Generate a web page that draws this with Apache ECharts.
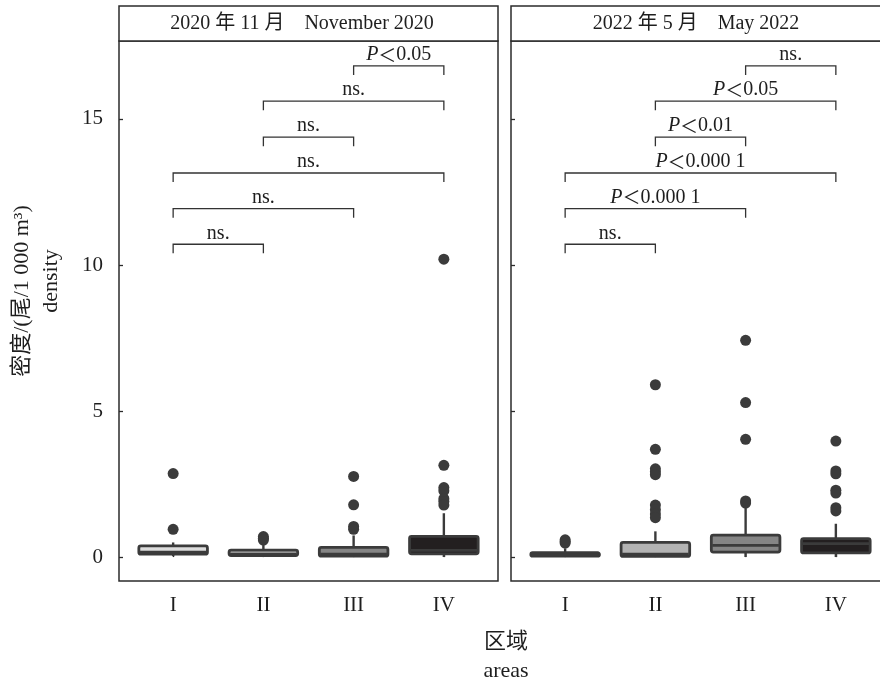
<!DOCTYPE html>
<html>
<head>
<meta charset="utf-8">
<script src="https://cdn.jsdelivr.net/npm/echarts@6/dist/echarts.min.js"></script>
<style>html,body{margin:0;padding:0;background:#fff}#chart{width:880px;height:685px}</style>
</head>
<body>
<div id="chart"></div>
<script>
// ---------- data ----------
const areas = ['I', 'II', 'III', 'IV'];
const panelTitles = ['2020 年 11 月\u3000November 2020', '2022 年 5 月\u3000May 2022'];
const yTicks = [0, 5, 10, 15];
// [min, Q1, median, Q3, max]
const nov2020Box = [
  [0.03, 0.10, 0.17, 0.38, 0.50],
  [0.00, 0.05, 0.10, 0.24, 0.45],
  [0.00, 0.03, 0.10, 0.33, 0.74],
  [0.00, 0.11, 0.23, 0.71, 1.50]
];
const nov2020Outliers = [
  [2.86, 0.95],
  [0.70, 0.64, 0.58],
  [2.76, 1.79, 1.05, 0.95],
  [10.2, 3.14, 2.38, 2.27, 2.00, 1.90, 1.78]
];
const may2022Box = [
  [0.00, 0.03, 0.07, 0.15, 0.30],
  [0.00, 0.02, 0.10, 0.50, 0.88],
  [0.00, 0.17, 0.40, 0.75, 1.71],
  [0.00, 0.14, 0.46, 0.63, 1.14]
];
const may2022Outliers = [
  [0.59, 0.53, 0.48],
  [5.90, 3.69, 3.02, 2.92, 2.82, 1.78, 1.62, 1.47, 1.35],
  [7.42, 5.29, 4.03, 1.92, 1.85],
  [3.97, 2.95, 2.85, 2.29, 2.19, 1.69, 1.58]
];
const bracketPairs = [[3, 4], [2, 4], [2, 3], [1, 4], [1, 3], [1, 2]];
const bracketLevels = [16.82, 15.61, 14.38, 13.15, 11.93, 10.71];
const nov2020Labels = ['P<0.05', 'ns.', 'ns.', 'ns.', 'ns.', 'ns.'];
const may2022Labels = ['ns.', 'P<0.05', 'P<0.01', 'P<0.000 1', 'P<0.000 1', 'ns.'];

// ---------- style ----------
const SERIF = '"Liberation Serif", "Times New Roman", "Noto Sans CJK SC", serif';
const INK = '#1e1e1e';
const EDGE = '#3b3b3b';
const boxFills = ['#dcdcdc', '#b3b3b3', '#858585', '#231f20'];

const chart = echarts.init(document.getElementById('chart'), null, {renderer: 'canvas'});

function boxData(box) {
  return box.map((b, i) => [i + 1, b[0], b[1], b[2], b[3], b[4], i]);
}
function outlierData(out) {
  const d = [];
  out.forEach((arr, i) => arr.forEach(v => d.push([i + 1, v])));
  return d;
}
function bracketData() {
  return bracketPairs.map((p, i) => [p[0], p[1], bracketLevels[i], i]);
}
function richLabel(s) {
  if (s.charAt(0) === 'P') return '{p|P}{r|\uFF1C}{t|' + s.slice(2) + '}';
  return '{t|' + s + '}';
}

function renderBox(params, api) {
  const x = api.value(0);
  const lo = api.coord([x, api.value(1)]);
  const q1 = api.coord([x, api.value(2)]);
  const md = api.coord([x, api.value(3)]);
  const q3 = api.coord([x, api.value(4)]);
  const hi = api.coord([x, api.value(5)]);
  const w = api.size([0.76, 0])[0];
  const fill = boxFills[api.value(6)];
  const ls = {stroke: EDGE, lineWidth: 2.4};
  return {
    type: 'group',
    children: [
      {type: 'line', shape: {x1: q3[0], y1: q3[1], x2: hi[0], y2: hi[1]}, style: ls},
      {type: 'line', shape: {x1: lo[0], y1: lo[1], x2: q1[0], y2: q1[1]}, style: ls},
      {type: 'rect', shape: {x: q3[0] - w / 2, y: q3[1], width: w, height: q1[1] - q3[1], r: 2},
        style: {fill: fill, stroke: EDGE, lineWidth: 2.8}},
      {type: 'line', shape: {x1: md[0] - w / 2 + 1, y1: md[1], x2: md[0] + w / 2 - 1, y2: md[1]},
        style: {stroke: EDGE, lineWidth: 2.8}}
    ]
  };
}

function makeBracketRenderer(labels) {
  return function (params, api) {
    const x1 = api.value(0), x2 = api.value(1), y = api.value(2);
    const a = api.coord([x1, y]);
    const b = api.coord([x2, y]);
    const drop = api.size([0, 0.31])[1];
    return {
      type: 'group',
      children: [
        {type: 'polyline', shape: {points: [[a[0], a[1] + drop], a, b, [b[0], b[1] + drop]]},
          style: {stroke: '#333', lineWidth: 1.3, fill: null}},
        {type: 'text', x: (a[0] + b[0]) / 2, y: a[1] - 1,
          style: {
            text: richLabel(labels[api.value(3)]),
            align: 'center', verticalAlign: 'bottom',
            fill: INK,
            rich: {
              p: {fontFamily: SERIF, fontSize: 20, fontStyle: 'italic', fill: INK},
              r: {fontFamily: '"Noto Sans CJK SC", sans-serif', fontSize: 18, fill: INK},
              t: {fontFamily: SERIF, fontSize: 20, fill: INK}
            }
          }}
      ]
    };
  };
}

const gridDefs = [
  {left: 119, top: 41, width: 379, height: 540},
  {left: 511, top: 41, width: 379, height: 540}
];

const option = {
  backgroundColor: '#fff',
  animation: false,
  grid: gridDefs.map(g => Object.assign({show: true, borderColor: '#2b2b2b', borderWidth: 1.5,
    backgroundColor: 'transparent', containLabel: false, outerBoundsMode: 'none'}, g)),
  xAxis: [0, 1].map(i => ({
    type: 'value', gridIndex: i, min: 0.4, max: 4.6,
    axisLine: {show: false}, splitLine: {show: false},
    axisTick: {show: true, inside: true, length: 4, customValues: [1, 2, 3, 4], lineStyle: {color: '#2b2b2b', width: 1.3}},
    axisLabel: {customValues: [1, 2, 3, 4], formatter: v => areas[Math.round(v) - 1], margin: 14,
      fontSize: 21, fontFamily: SERIF, color: INK}
  })),
  yAxis: [0, 1].map(i => ({
    type: 'value', gridIndex: i, min: -0.82, max: 17.67,
    axisLine: {show: false}, splitLine: {show: false},
    axisTick: {show: true, inside: true, length: 4, customValues: yTicks, lineStyle: {color: '#2b2b2b', width: 1.3}},
    axisLabel: {show: i === 0, customValues: yTicks, margin: 16, fontSize: 21, fontFamily: SERIF, color: INK}
  })),
  series: [
    {type: 'custom', xAxisIndex: 0, yAxisIndex: 0, renderItem: renderBox, data: boxData(nov2020Box), encode: {x: 0, y: [1, 2, 3, 4, 5]}, z: 2},
    {type: 'scatter', xAxisIndex: 0, yAxisIndex: 0, data: outlierData(nov2020Outliers), symbolSize: 11, itemStyle: {color: EDGE, opacity: 1}, z: 3},
    {type: 'custom', xAxisIndex: 0, yAxisIndex: 0, renderItem: makeBracketRenderer(nov2020Labels), data: bracketData(), encode: {x: [0, 1], y: 2}, z: 4},
    {type: 'custom', xAxisIndex: 1, yAxisIndex: 1, renderItem: renderBox, data: boxData(may2022Box), encode: {x: 0, y: [1, 2, 3, 4, 5]}, z: 2},
    {type: 'scatter', xAxisIndex: 1, yAxisIndex: 1, data: outlierData(may2022Outliers), symbolSize: 11, itemStyle: {color: EDGE, opacity: 1}, z: 3},
    {type: 'custom', xAxisIndex: 1, yAxisIndex: 1, renderItem: makeBracketRenderer(may2022Labels), data: bracketData(), encode: {x: [0, 1], y: 2}, z: 4}
  ],
  graphic: [
    {type: 'rect', shape: {x: 119, y: 6, width: 379, height: 35}, style: {fill: '#fff', stroke: '#2b2b2b', lineWidth: 1.5}, z: 10},
    {type: 'rect', shape: {x: 511, y: 6, width: 379, height: 35}, style: {fill: '#fff', stroke: '#2b2b2b', lineWidth: 1.5}, z: 10},
    {type: 'text', x: 302, y: 24, z: 11, style: {text: panelTitles[0], align: 'center', verticalAlign: 'middle', fontSize: 20, fontFamily: SERIF, fill: INK}},
    {type: 'text', x: 696, y: 24, z: 11, style: {text: panelTitles[1], align: 'center', verticalAlign: 'middle', fontSize: 20, fontFamily: SERIF, fill: INK}},
    {type: 'text', x: 22, y: 291, rotation: Math.PI / 2, style: {text: '密度/(尾/1 000 m³)', align: 'center', verticalAlign: 'middle', fontSize: 22, fontFamily: SERIF, fill: INK}},
    {type: 'text', x: 51, y: 281, rotation: Math.PI / 2, style: {text: 'density', align: 'center', verticalAlign: 'middle', fontSize: 22, fontFamily: SERIF, fill: INK}},
    {type: 'text', x: 506, y: 642, style: {text: '区域', align: 'center', verticalAlign: 'middle', fontSize: 22, fontFamily: SERIF, fill: INK}},
    {type: 'text', x: 506, y: 671, style: {text: 'areas', align: 'center', verticalAlign: 'middle', fontSize: 22, fontFamily: SERIF, fill: INK}}
  ]
};
chart.setOption(option);
</script>
</body>
</html>
